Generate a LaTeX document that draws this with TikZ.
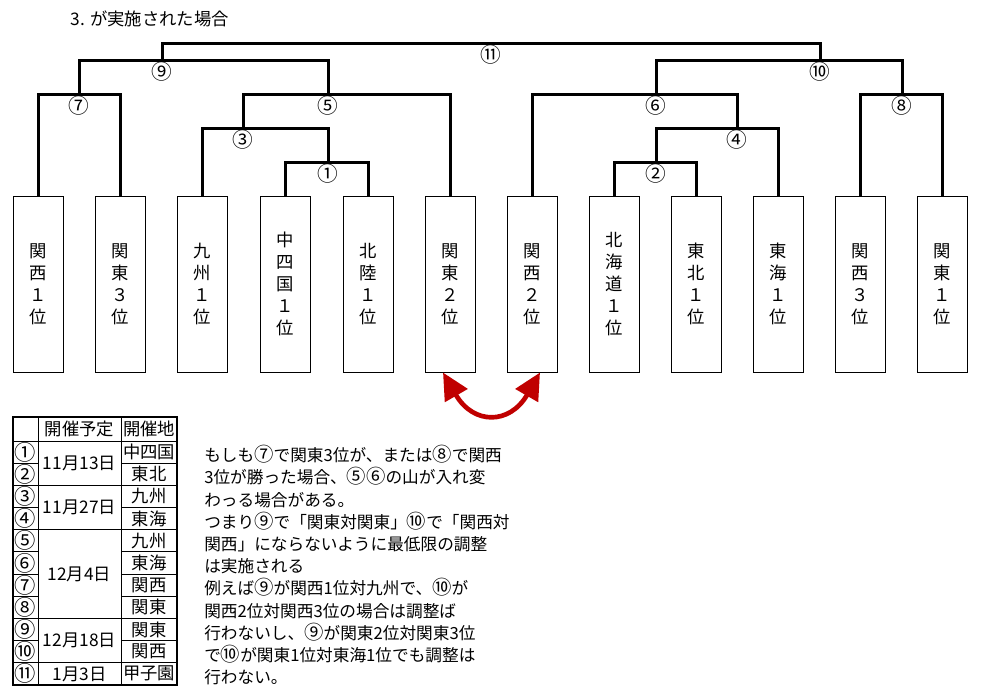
\documentclass[tikz,border=0pt]{standalone}
\usepackage{fontspec}
\setmainfont{Noto Sans CJK JP}
\usepackage{tikz}
\usetikzlibrary{arrows.meta}
\definecolor{swapred}{RGB}{192,0,0}
\newcommand{\cnum}[1]{{\fontsize{14.5}{16}\selectfont #1}}

\begin{document}
\begin{tikzpicture}[x=0.75pt,y=-0.75pt,
  team/.style={draw, line width=0.75pt, minimum width=37.5pt, minimum height=132pt, inner sep=0pt, align=center, font=\fontsize{13}{16.5}\selectfont},
  bracket/.style={line width=2.25pt},
  num/.style={inner sep=0pt, font=\fontsize{15.5}{16}\selectfont},
  cell/.style={inner sep=0pt, font=\fontsize{13}{15}\selectfont},
  grid/.style={line width=0.75pt},
  swaparrow/.style={{Triangle[length=20pt,width=19pt]}-{Triangle[length=20pt,width=19pt]}, line width=3.5pt, swapred}]
\useasboundingbox (0,0) rectangle (981,696);

% Title
\node[anchor=west, font=\fontsize{13}{15}\selectfont] (title) at (66,19) {3. が実施された場合};

% Teams
\node[team] (b1) at (38,284) {関\\西\\１\\位};
\node[team] (b2) at (120,284) {関\\東\\３\\位};
\node[team] (b3) at (202,284) {九\\州\\１\\位};
\node[team] (b4) at (285,284) {中\\四\\国\\１\\位};
\node[team] (b5) at (368,284) {北\\陸\\１\\位};
\node[team] (b6) at (450,284) {関\\東\\２\\位};
\node[team] (b7) at (532,284) {関\\西\\２\\位};
\node[team] (b8) at (614,284) {北\\海\\道\\１\\位};
\node[team] (b9) at (696,284) {東\\北\\１\\位};
\node[team] (b10) at (778,284) {東\\海\\１\\位};
\node[team] (b11) at (860,284) {関\\西\\３\\位};
\node[team] (b12) at (942,284) {関\\東\\１\\位};

% Matches
\coordinate (m1) at (328,162);
\coordinate (m2) at (656,162);
\coordinate (m3) at (243,128);
\coordinate (m4) at (737,128);
\coordinate (m5) at (328,94);
\coordinate (m6) at (656,94);
\coordinate (m7) at (79,94);
\coordinate (m8) at (902,94);
\coordinate (m9) at (162,60);
\coordinate (m10) at (820,60);
\coordinate (m11) at (491,43);

\draw[bracket] (b4.north) |- (m1) -| (b5.north);
\draw[bracket] (b8.north) |- (m2) -| (b9.north);
\draw[bracket] (b3.north) |- (m3) -| (m1);
\draw[bracket] (m2) |- (m4) -| (b10.north);
\draw[bracket] (m3) |- (m5) -| (b6.north);
\draw[bracket] (b7.north) |- (m6) -| (m4);
\draw[bracket] (b1.north) |- (m7) -| (b2.north);
\draw[bracket] (b11.north) |- (m8) -| (b12.north);
\draw[bracket] (m7) |- (m9) -| (m5);
\draw[bracket] (m6) |- (m10) -| (m8);
\draw[bracket] (m9) |- (m11) -| (m10);

\node[num, below=1.5pt] (l1) at (m1) {①};
\node[num, below=1.5pt] (l2) at (m2) {②};
\node[num, below=1.5pt] (l3) at (m3) {③};
\node[num, below=1.5pt] (l4) at (m4) {④};
\node[num, below=1.5pt] (l5) at (m5) {⑤};
\node[num, below=1.5pt] (l6) at (m6) {⑥};
\node[num, below=1.5pt] (l7) at (m7) {⑦};
\node[num, below=1.5pt] (l8) at (m8) {⑧};
\node[num, below=1.5pt] (l9) at (m9) {⑨};
\node[num, below=1.5pt] (l10) at (m10) {⑩};
\node[num, below=1.5pt] (l11) at (m11) {⑪};

% Swap
\draw[swaparrow] ([xshift=-5.25pt]b6.south) to[out=-60,in=-120,looseness=1.6] ([xshift=6pt]b7.south);

% Schedule
\draw[line width=1.5pt] (13,417) rectangle (177,685);
\draw[grid] (38,417) -- (38,685) (121,417) -- (121,685) (13,441) -- (177,441);
\foreach \i in {1,...,10}
  \draw[grid] (13,441+22.18*\i) -- (38,441+22.18*\i) (121,441+22.18*\i) -- (177,441+22.18*\i);
\foreach \i in {2,4,8,10}
  \draw[grid] (38,441+22.18*\i) -- (121,441+22.18*\i);

\node[cell] (hdate) at (79.5,429) {開催予定};
\node[cell] (hsite) at (149,429) {開催地};
\foreach \n [count=\i] in {①,②,③,④,⑤,⑥,⑦,⑧,⑨,⑩,⑪}
  \node[cell, font=\fontsize{16}{16}\selectfont] (no\i) at (25.5,452+22.18*\i-22.18) {\n};
\foreach \v [count=\i] in {中四国,東北,九州,東海,九州,東海,関西,関東,関東,関西,甲子園}
  \node[cell] (site\i) at (149,452+22.18*\i-22.18) {\v};
\node[cell] (d1) at (79.5,463) {11月13日};
\node[cell] (d2) at (79.5,507.5) {11月27日};
\node[cell] (d3) at (79.5,574) {12月4日};
\node[cell] (d4) at (79.5,640.6) {12月18日};
\node[cell] (d5) at (79.5,674) {1月3日};

% Note
\node[anchor=north west, inner sep=0pt, align=left, font=\fontsize{12.5}{16.65}\selectfont] (note) at (204,445) {もしも\cnum{⑦}で関東3位が、または\cnum{⑧}で関西\\3位が勝った場合、\cnum{⑤⑥}の山が入れ変\\わっる場合がある。\\つまり\cnum{⑨}で「関東対関東」\cnum{⑩}で「関西対\\関西」にならないように最低限の調整\\は実施される\\例えば\cnum{⑨}が関西1位対九州で、\cnum{⑩}が\\関西2位対関西3位の場合は調整ば\\行わないし、\cnum{⑨}が関東2位対関東3位\\で\cnum{⑩}が関東1位対東海1位でも調整は\\行わない。};
\end{tikzpicture}
\end{document}
